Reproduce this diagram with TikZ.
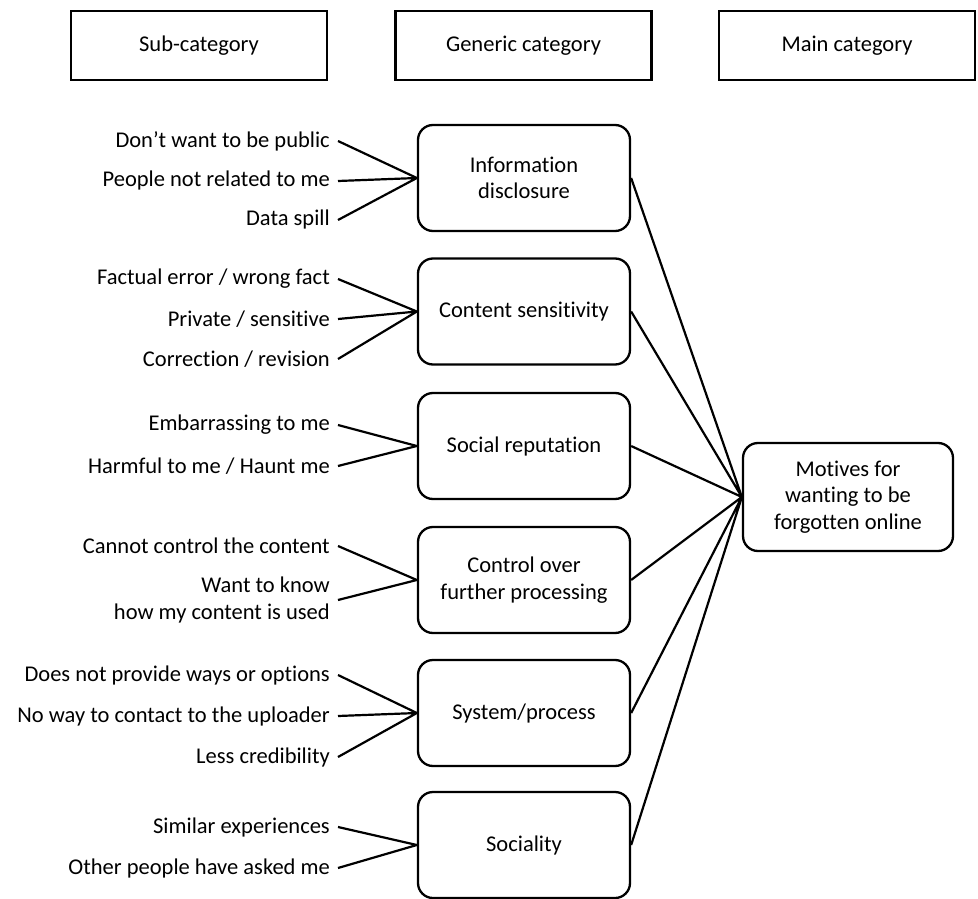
\documentclass[tikz,border=0pt]{standalone}
\usepackage{fontspec}
\setmainfont{Carlito}[Ligatures=NoCommon]
\begin{document}
\begin{tikzpicture}[x=1pt,y=-1pt,
    every node/.style={font=\fontsize{22.5}{26.5}\selectfont},
    headbox/.style={draw,line width=2.4pt,minimum width=256pt,minimum height=69pt},
    genbox/.style={draw,line width=2.3pt,rounded corners=15pt,minimum width=212pt,minimum height=106pt,align=center},
    sublabel/.style={anchor=east,inner xsep=8pt,inner ysep=0pt,align=right},
    link/.style={line width=2.2pt}]
      \useasboundingbox (0,0) rectangle (978,899);
      % column headings
      \node[headbox] (hsub) at (199,45.5) {Sub-category};
      \node[headbox] (hgen) at (523.5,45.5) {Generic category};
      \node[headbox] (hmain) at (847,45.5) {Main category};
      % generic categories
      \node[genbox] (g1) at (524,178) {Information\\disclosure};
      \node[genbox] (g2) at (524,311.5) {Content sensitivity};
      \node[genbox] (g3) at (524,446) {Social reputation};
      \node[genbox] (g4) at (524,580) {Control over\\further processing};
      \node[genbox] (g5) at (524,713) {System/process};
      \node[genbox] (g6) at (524,845) {Sociality};
      % main category
      \node[genbox,minimum width=210pt,minimum height=108pt] (m) at (848,497) {Motives for\\wanting to be\\forgotten online};
      % sub-categories
      \node[sublabel] (s1a) at (338,141) {Don’t want to be public};
      \node[sublabel] (s1b) at (338,181) {People not related to me};
      \node[sublabel] (s1c) at (338,220) {Data spill};
      \node[sublabel] (s2a) at (338,279) {Factual error / wrong fact};
      \node[sublabel] (s2b) at (338,319) {Private / sensitive};
      \node[sublabel] (s2c) at (338,359) {Correction / revision};
      \node[sublabel] (s3a) at (338,425) {Embarrassing to me};
      \node[sublabel] (s3b) at (338,466) {Harmful to me / Haunt me};
      \node[sublabel] (s4a) at (338,546) {Cannot control the content};
      \node[sublabel] (s4b) at (338,600) {Want to know\\how my content is used};
      \node[sublabel] (s5a) at (338,675) {Does not provide ways or options};
      \node[sublabel] (s5b) at (338,716) {No way to contact to the uploader};
      \node[sublabel] (s5c) at (338,757) {Less credibility};
      \node[sublabel] (s6a) at (338,827) {Similar experiences};
      \node[sublabel] (s6b) at (338,868) {Other people have asked me};
      % links to generic categories
      \draw[link] (s1a.east) -- (g1.west) (s1b.east) -- (g1.west) (s1c.east) -- (g1.west);
      \draw[link] (s2a.east) -- (g2.west) (s2b.east) -- (g2.west) (s2c.east) -- (g2.west);
      \draw[link] (s3a.east) -- (g3.west) (s3b.east) -- (g3.west);
      \draw[link] (s4a.east) -- (g4.west) (s4b.east) -- (g4.west);
      \draw[link] (s5a.east) -- (g5.west) (s5b.east) -- (g5.west) (s5c.east) -- (g5.west);
      \draw[link] (s6a.east) -- (g6.west) (s6b.east) -- (g6.west);
      % links to main category
      \draw[link] (g1.east) -- (m.west) (g2.east) -- (m.west) (g3.east) -- (m.west)
                  (g4.east) -- (m.west) (g5.east) -- (m.west) (g6.east) -- (m.west);
\end{tikzpicture}
\end{document}
